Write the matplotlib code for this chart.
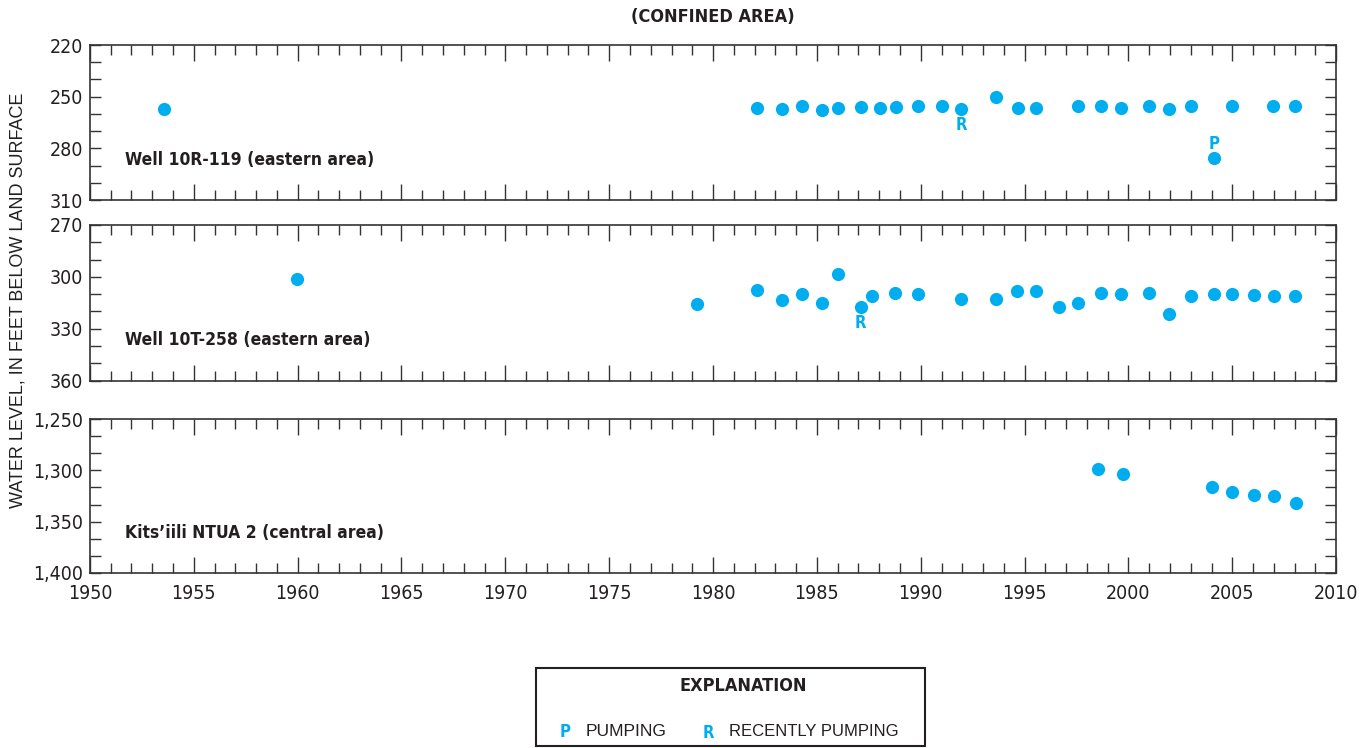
# Hydrographs of water levels in wells, confined area
import matplotlib
matplotlib.use("Agg")
import matplotlib.pyplot as plt
from matplotlib.ticker import MultipleLocator, FuncFormatter
from matplotlib.patches import Rectangle

plt.rcParams['font.family'] = ['DejaVu Sans']
plt.rcParams['font.stretch'] = 'condensed'

BLUE = '#00AEEF'
INK = '#231F20'
PLAIN = ['Liberation Sans', 'DejaVu Sans']

# well 10R-119 (eastern area)
years_10r = [1953.55, 1982.12, 1983.33, 1984.30, 1985.23, 1986.00, 1987.12, 1988.03,
             1988.81, 1989.85, 1991.00, 1991.95, 1993.62, 1994.68, 1995.53, 1997.58,
             1998.69, 1999.64, 2001.00, 2001.93, 2003.03, 2004.13, 2004.98, 2006.95,
             2008.00]
levels_10r = [257.0, 256.8, 257.1, 255.4, 257.9, 256.4, 255.8, 256.4,
              256.2, 255.6, 255.2, 256.9, 250.2, 256.4, 256.4, 255.6,
              255.6, 256.4, 255.6, 256.9, 255.2, 285.6, 255.6, 255.6,
              255.6]

# well 10T-258 (eastern area)
years_10t = [1959.95, 1979.22, 1982.12, 1983.33, 1984.30, 1985.23, 1986.00, 1987.10,
             1987.63, 1988.75, 1989.85, 1991.95, 1993.62, 1994.62, 1995.53, 1996.67,
             1997.58, 1998.69, 1999.66, 2001.00, 2001.95, 2003.03, 2004.13, 2004.98,
             2006.02, 2006.99, 2008.03]
levels_10t = [301.3, 316.0, 307.5, 313.3, 309.8, 315.3, 298.6, 317.6,
              311.0, 309.1, 310.0, 313.1, 312.6, 308.3, 308.1, 317.6,
              314.9, 309.3, 309.8, 309.3, 321.6, 311.0, 309.8, 309.8,
              310.4, 311.0, 311.0]

# Kits'iili NTUA 2 (central area)
years_kits = [1998.52, 1999.73, 2004.03, 2004.98, 2006.04, 2007.01, 2008.05]
levels_kits = [1298.9, 1303.1, 1316.4, 1320.9, 1323.9, 1325.2, 1331.6]

# P = pumping, R = recently pumping  (year, level, letter)
notes_10r = [(1991.95, 256.9, 'R'), (2004.13, 285.6, 'P')]
notes_10t = [(1987.10, 317.6, 'R')]

panels = [
    ("Well 10R-119 (eastern area)", years_10r, levels_10r, notes_10r,
     (220, 310), 30, 10, [0.0656, 0.7326, 0.909, 0.2072]),
    ("Well 10T-258 (eastern area)", years_10t, levels_10t, notes_10t,
     (270, 360), 30, 10, [0.0656, 0.4913, 0.909, 0.2079]),
    ("Kits\u2019iili NTUA 2 (central area)", years_kits, levels_kits, [],
     (1250, 1400), 50, 50 / 3, [0.0656, 0.2340, 0.909, 0.2058]),
]

fig = plt.figure(figsize=(13.71, 7.48), dpi=100)

for i, (name, yrs, lev, notes, ylim, ymaj, ymin, rect) in enumerate(panels):
    ax = fig.add_axes(rect)
    ax.plot(yrs, lev, 'o', color=BLUE, markersize=9.5, markeredgewidth=0)
    span = ylim[1] - ylim[0]
    for x, y, letter in notes:
        # R sits below its dot, P above it
        off = 9.3 if letter == 'R' else -8.3
        ax.text(x, y + off * span / 90, letter, color=BLUE, fontsize=12,
                fontweight='bold', ha='center', va='center')
    ax.set_xlim(1950, 2010)
    ax.set_ylim(ylim[1], ylim[0])
    ax.xaxis.set_major_locator(MultipleLocator(5))
    ax.xaxis.set_minor_locator(MultipleLocator(1))
    ax.set_yticks(list(range(ylim[0], ylim[1] + 1, ymaj)))
    ax.yaxis.set_minor_locator(MultipleLocator(ymin))
    ax.yaxis.set_major_formatter(FuncFormatter(lambda v, p: f"{v:,.0f}"))
    ax.tick_params(axis='x', which='major', direction='in', length=11.5,
                   width=1.0, color='#333333', top=True, bottom=True,
                   labelsize=14, pad=8, labelcolor=INK)
    ax.tick_params(axis='x', which='minor', direction='in', length=7,
                   width=1.0, color='#333333', top=True, bottom=True)
    ax.tick_params(axis='y', which='both', direction='in', length=8,
                   width=1.0, color='#333333', left=True, right=True,
                   labelsize=14, pad=5, labelcolor=INK)
    if i < 2:
        ax.tick_params(axis='x', labelbottom=False)
    for s in ax.spines.values():
        s.set_linewidth(1.2)
        s.set_color('#333333')
    ax.text(0.028, 0.26, name, transform=ax.transAxes, fontsize=12.5,
            fontweight='bold', color=INK, ha='left', va='center')

fig.text(0.520, 0.977, "(CONFINED AREA)", fontsize=13, fontweight='bold',
         color=INK, ha='center', va='center')
fig.text(0.013, 0.599, "WATER LEVEL, IN FEET BELOW LAND SURFACE",
         fontsize=13, rotation=90, color=INK, ha='center', va='center',
         family=PLAIN, stretch='normal')

# explanation box
fig.patches.append(Rectangle((0.391, 0.003), 0.284, 0.104, transform=fig.transFigure,
                             fill=False, edgecolor=INK, linewidth=1.5))
fig.text(0.542, 0.083, "EXPLANATION", fontsize=13, fontweight='bold',
         color=INK, ha='center', va='center')
fig.text(0.412, 0.022, "P", fontsize=12, fontweight='bold', color=BLUE,
         ha='center', va='center')
fig.text(0.427, 0.022, "PUMPING", fontsize=12.5, color=INK, ha='left',
         va='center', family=PLAIN, stretch='normal')
fig.text(0.517, 0.020, "R", fontsize=12, fontweight='bold', color=BLUE,
         ha='center', va='center')
fig.text(0.532, 0.022, "RECENTLY PUMPING", fontsize=12, color=INK, ha='left',
         va='center', family=PLAIN, stretch='normal')

fig.savefig("out.png", dpi=100)
